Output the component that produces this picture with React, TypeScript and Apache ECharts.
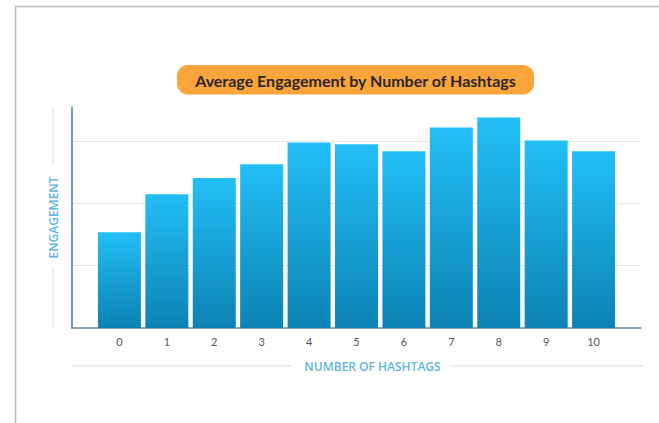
import React, { useEffect, useRef } from "react";
import * as echarts from "echarts";

const categories: string[] = ["", "0", "1", "2", "3", "4", "5", "6", "7", "8", "9", "10", ""];
const engagement: (number | null)[] = [null, 1.54, 2.15, 2.41, 2.63, 2.98, 2.95, 2.84, 3.22, 3.38, 3.01, 2.84, null];
const gridValues: number[] = [1, 2, 3];
const titleText = "Average Engagement by Number of Hashtags";
const xName = "NUMBER OF HASHTAGS";
const yName = "ENGAGEMENT";

export default function App() {
  const ref = useRef<HTMLDivElement>(null);
  useEffect(() => {
    if (!ref.current) return;
    const chart = echarts.init(ref.current, undefined, { renderer: "svg" });
    const lineColor = "#cfe2ea";
    const nameColor = "#5db6df";
    chart.setOption({
      animation: false,
      backgroundColor: "#ffffff",
      grid: { left: 72, right: 18, top: 107, bottom: 95 },
      xAxis: {
        type: "category",
        data: categories,
        boundaryGap: false,
        axisLine: { show: true, lineStyle: { color: "#5f8798", width: 1.5 } },
        axisTick: { show: false },
        axisLabel: {
          interval: 0,
          margin: 8,
          color: "#555555",
          fontSize: 11,
          fontFamily: "Lato",
        },
        splitLine: { show: false },
      },
      yAxis: {
        type: "value",
        min: 0,
        max: 3.55,
        interval: 1,
        axisLine: { show: true, lineStyle: { color: "#4f7d8f", width: 1.5 } },
        axisTick: { show: false },
        axisLabel: { show: false },
        splitLine: { show: false },
        name: yName,
        nameLocation: "middle",
        nameGap: 13,
        nameRotate: 90,
        nameTextStyle: { color: nameColor, fontSize: 12, fontWeight: 600, fontFamily: "Open Sans" },
      },
      series: [
        {
          type: "bar",
          data: engagement,
          barWidth: 43,
          itemStyle: {
            color: new echarts.graphic.LinearGradient(0, 0, 0, 1, [
              { offset: 0, color: "#22bff6" },
              { offset: 1, color: "#0c82b3" },
            ]),
          },
          markLine: {
            silent: true,
            symbol: "none",
            label: { show: false },
            lineStyle: { color: "#dbe8ee", width: 1, type: "solid" },
            data: gridValues.map((v) => ({ yAxis: v })),
            z: 0,
          },
          z: 2,
        },
      ],
      graphic: [
        {
          type: "rect",
          shape: { x: 15.5, y: 6.5, width: 700, height: 500 },
          style: { fill: "none", stroke: "#bdbdbd", lineWidth: 1.5 },
          silent: true,
        },
        {
          type: "rect",
          shape: { x: 177, y: 65, width: 357, height: 29.5, r: 11 },
          style: { fill: "#f9a53b" },
          silent: true,
        },
        {
          type: "text",
          x: 355.5,
          y: 80,
          style: {
            text: titleText,
            fill: "#2b2626",
            font: "bold 16px Lato",
            align: "center",
            verticalAlign: "middle",
          },
          silent: true,
        },
        {
          type: "line",
          shape: { x1: 72, y1: 366, x2: 293, y2: 366 },
          style: { stroke: lineColor, lineWidth: 1 },
          silent: true,
        },
        {
          type: "line",
          shape: { x1: 450, y1: 366, x2: 643, y2: 366 },
          style: { stroke: lineColor, lineWidth: 1 },
          silent: true,
        },
        {
          type: "text",
          x: 372.5,
          y: 366,
          style: {
            text: xName,
            fill: nameColor,
            font: "600 12px 'Open Sans'",
            align: "center",
            verticalAlign: "middle",
          },
          silent: true,
        },
        {
          type: "line",
          shape: { x1: 53, y1: 108, x2: 53, y2: 165 },
          style: { stroke: lineColor, lineWidth: 1 },
          silent: true,
        },
        {
          type: "line",
          shape: { x1: 53, y1: 268, x2: 53, y2: 327 },
          style: { stroke: lineColor, lineWidth: 1 },
          silent: true,
        },
      ],
    });
    return () => chart.dispose();
  }, []);
  return (
    <div
      ref={ref}
      style={{ position: "fixed", left: 0, top: 0, width: 659, height: 423 }}
    />
  );
}
